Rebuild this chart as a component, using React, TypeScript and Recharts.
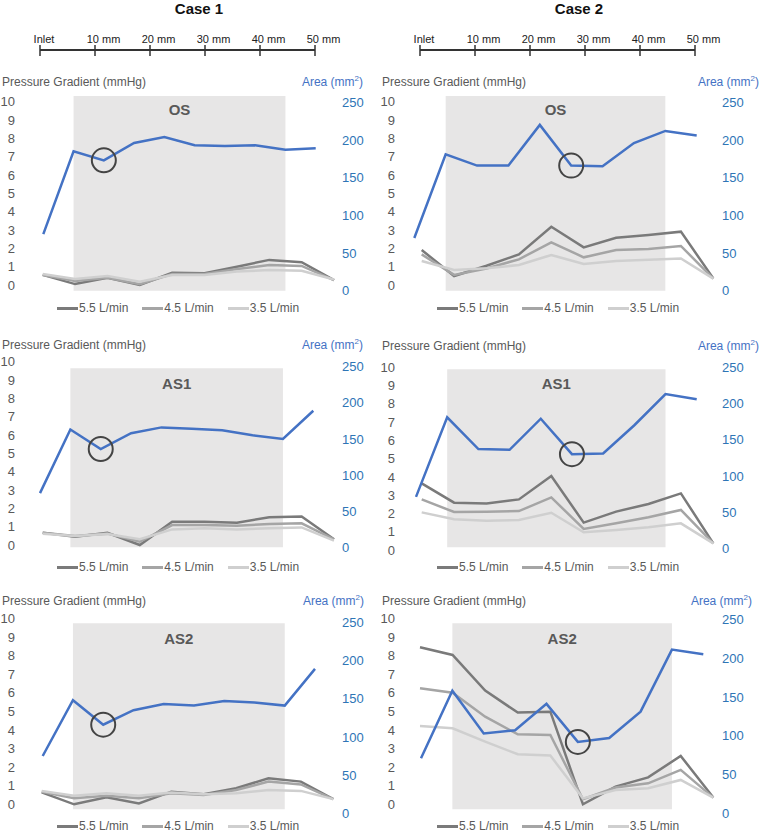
import React from "react";
import { ComposedChart, Line, XAxis, YAxis, ReferenceArea, ReferenceDot } from "recharts";

const FONT = '"Liberation Sans", Arial, Helvetica, sans-serif';

// ---- data ----
const STATIONS = [0, 1, 2, 3, 4, 5, 6, 7, 8, 9];
const FLOWS = ["5.5 L/min", "4.5 L/min", "3.5 L/min"];
const FLOW_KEYS = ["p55", "p45", "p35"];
const FLOW_COLORS = ["#7a7a7a", "#a5a5a5", "#cfcfcf"];
const LEFT_TICKS = [0, 1, 2, 3, 4, 5, 6, 7, 8, 9, 10];
const RIGHT_TICKS = [0, 50, 100, 150, 200, 250];
const SCALE_MM = [0, 10, 20, 30, 40, 50];
const SCALE_LABELS = ["Inlet", "10 mm", "20 mm", "30 mm", "40 mm", "50 mm"];
const CASES = ["Case 1", "Case 2"];
const SEGMENTS = ["OS", "AS1", "AS2"];
const SHADE = [1, 8]; // stations inside the grey band
const RING = [2, 5]; // circled (smallest) section, per case

// Case 1
const c1OsArea = [75, 185, 173, 196, 204, 193, 192, 193, 187, 189];
const c1OsP55 = [0.55, 0.05, 0.4, 0, 0.67, 0.64, 1.0, 1.37, 1.24, 0.27];
const c1OsP45 = [0.55, 0.22, 0.4, 0.04, 0.6, 0.6, 0.87, 1.09, 1.04, 0.27];
const c1OsP35 = [0.6, 0.33, 0.49, 0.18, 0.55, 0.55, 0.73, 0.82, 0.78, 0.3];

const c1As1Area = [75, 163, 136, 158, 166, 164, 162, 155, 150, 189];
const c1As1P55 = [0.67, 0.45, 0.67, 0, 1.27, 1.27, 1.22, 1.51, 1.55, 0.31];
const c1As1P45 = [0.67, 0.49, 0.62, 0.18, 1.09, 1.09, 1.05, 1.15, 1.18, 0.31];
const c1As1P35 = [0.62, 0.49, 0.6, 0.31, 0.85, 0.91, 0.85, 0.91, 0.96, 0.24];

const c1As2Area = [75, 148, 116, 135, 143, 141, 147, 145, 141, 189];
const c1As2P55 = [0.64, 0, 0.38, 0.05, 0.68, 0.54, 0.86, 1.4, 1.22, 0.28];
const c1As2P45 = [0.68, 0.32, 0.46, 0.32, 0.59, 0.5, 0.77, 1.22, 1.07, 0.28];
const c1As2P35 = [0.72, 0.46, 0.59, 0.46, 0.64, 0.54, 0.59, 0.77, 0.72, 0.28];

// Case 2
const c2OsArea = [70, 181, 166, 166, 220, 166, 165, 196, 212, 206];
const c2OsP55 = [1.91, 0.49, 1.05, 1.67, 3.18, 2.05, 2.58, 2.73, 2.91, 0.36];
const c2OsP45 = [1.67, 0.55, 0.9, 1.4, 2.33, 1.51, 1.91, 1.96, 2.13, 0.35];
const c2OsP35 = [1.31, 0.82, 0.91, 1.09, 1.64, 1.15, 1.31, 1.38, 1.45, 0.35];

const c2As1Area = [71, 181, 137, 136, 179, 130, 131, 170, 213, 206];
const c2As1P55 = [3.65, 2.59, 2.55, 2.77, 4.05, 1.5, 2.1, 2.52, 3.1, 0.36];
const c2As1P45 = [2.77, 2.08, 2.1, 2.13, 2.88, 1.15, 1.46, 1.79, 2.19, 0.36];
const c2As1P35 = [2.06, 1.68, 1.6, 1.64, 2.04, 0.97, 1.1, 1.24, 1.46, 0.36];

const c2As2Area = [71, 158, 103, 107, 141, 92, 97, 131, 211, 205];
const c2As2P55 = [8.44, 8.03, 6.11, 4.93, 4.98, 0, 0.95, 1.45, 2.6, 0.36];
const c2As2P45 = [6.24, 6.0, 4.71, 3.76, 3.73, 0.27, 0.9, 1.13, 1.85, 0.36];
const c2As2P35 = [4.21, 4.09, 3.37, 2.69, 2.62, 0.32, 0.77, 0.86, 1.31, 0.36];

const SERIES = [
  [
    { area: c1OsArea, p: [c1OsP55, c1OsP45, c1OsP35] },
    { area: c1As1Area, p: [c1As1P55, c1As1P45, c1As1P35] },
    { area: c1As2Area, p: [c1As2P55, c1As2P45, c1As2P35] },
  ],
  [
    { area: c2OsArea, p: [c2OsP55, c2OsP45, c2OsP35] },
    { area: c2As1Area, p: [c2As1P55, c2As1P45, c2As1P35] },
    { area: c2As2Area, p: [c2As2P55, c2As2P45, c2As2P35] },
  ],
];

// ---- layout (page pixels; x relative to column) ----
const COL_X = [0, 380];
const ROW_TOP = [60, 320, 580];
const LEGEND_Y = [308, 567, 826];
const W = 380;
const H = 250;

const GEO = [
  [
    { top: 96, bottom: 290.7, l0: 285, l10: 101.7, r0: 290.7, r250: 102.3, gx: [42.7, 334], bx: [43.3, 315.7], titleY: 82, areaRight: 363, lab: 8.5 },
    { top: 368.3, bottom: 547.3, l0: 545, l10: 361.7, r0: 547.3, r250: 366.7, gx: [42.7, 334], bx: [40, 313.3], titleY: 345, areaRight: 363, lab: 10 },
    { top: 623.3, bottom: 809.3, l0: 804.3, l10: 618.3, r0: 813.3, r250: 622.3, gx: [41.7, 333.3], bx: [42.7, 315], titleY: 600.7, areaRight: 364, lab: 10 },
  ],
  [
    { top: 96, bottom: 290.7, l0: 285, l10: 101.7, r0: 290.7, r250: 102.3, gx: [41.7, 333.3], bx: [34.3, 316.7], titleY: 82, areaRight: 379, lab: 8.5 },
    { top: 369.3, bottom: 547.3, l0: 550, l10: 367.3, r0: 548.3, r250: 367.3, gx: [41.7, 333.3], bx: [36, 316.7], titleY: 345.5, areaRight: 379, lab: 9 },
    { top: 623.3, bottom: 809.3, l0: 804.3, l10: 618.3, r0: 813.3, r250: 619.3, gx: [40, 333.3], bx: [41, 323.3], titleY: 600.7, areaRight: 372, lab: 10 },
  ],
];

const GREY_TEXT = "#595959";
const BLUE_LINE = "#4472c4";
const BLUE_TEXT = "#2e75b6";

function ScaleTick(props: any) {
  const { x, y, payload } = props;
  const i = SCALE_MM.indexOf(payload.value);
  return (
    <g>
      <line x1={x} x2={x} y1={y - 5} y2={y + 6} stroke="#333" strokeWidth={1.5} />
      <text x={x + (i === 0 ? 4 : 8.5)} y={y - 7} textAnchor="middle" fontSize={11} fill="#222">
        {SCALE_LABELS[i]}
      </text>
    </g>
  );
}

function ScaleBar({ col }: { col: number }) {
  const data = SCALE_MM.map((mm) => ({ mm }));
  return (
    <div style={{ position: "absolute", left: COL_X[col], top: 0 }}>
      <ComposedChart width={W} height={70} data={data} margin={{ top: 20, left: 40, right: 65, bottom: 0 }}>
        <XAxis
          dataKey="mm"
          type="number"
          domain={[0, 50]}
          ticks={SCALE_MM}
          interval={0}
          orientation="top"
          height={30}
          stroke="#333"
          strokeWidth={2}
          tickLine={false}
          tickSize={0}
          tickMargin={0}
          tick={<ScaleTick />}
        />
      </ComposedChart>
      <div
        style={{
          position: "absolute", left: 0, top: 0, width: 398, textAlign: "center",
          fontSize: 15, fontWeight: 700, lineHeight: "17px", color: "#111",
        }}
      >
        {CASES[col]}
      </div>
    </div>
  );
}

function Panel({ col, row }: { col: number; row: number }) {
  const g = GEO[col][row];
  const s = SERIES[col][row];
  const rowTop = ROW_TOP[row];
  const plotLeft = Math.min(g.gx[0], g.bx[0]);
  const plotRight = Math.max(g.gx[1], g.bx[1]);

  const lppu = (g.l0 - g.l10) / 10;
  const leftDomain = [-(g.bottom - g.l0) / lppu, 10 + (g.l10 - g.top) / lppu];
  const rppu = (g.r0 - g.r250) / 250;
  const rightDomain = [-(g.bottom - g.r0) / rppu, 250 + (g.r250 - g.top) / rppu];
  const gppu = (g.gx[1] - g.gx[0]) / 9;
  const pDomain = [-(g.gx[0] - plotLeft) / gppu, 9 + (plotRight - g.gx[1]) / gppu];
  const bppu = (g.bx[1] - g.bx[0]) / 9;
  const aDomain = [-(g.bx[0] - plotLeft) / bppu, 9 + (plotRight - g.bx[1]) / bppu];

  const data = STATIONS.map((st, i) => ({
    st,
    p55: s.p[0][i],
    p45: s.p[1][i],
    p35: s.p[2][i],
    area: s.area[i],
  }));
  const ring = RING[col];

  return (
    <div style={{ position: "absolute", left: COL_X[col], top: rowTop, width: W, height: H }}>
      <ComposedChart
        width={W}
        height={H}
        data={data}
        margin={{ top: g.top - rowTop, bottom: H - (g.bottom - rowTop), left: 0, right: 0 }}
      >
        <XAxis xAxisId="p" dataKey="st" type="number" domain={pDomain} hide />
        <XAxis xAxisId="a" dataKey="st" type="number" domain={aDomain} hide />
        <YAxis
          yAxisId="l"
          domain={leftDomain}
          ticks={LEFT_TICKS}
          interval={0}
          width={plotLeft}
          axisLine={false}
          tickLine={false}
          tickMargin={plotLeft - 6 - 15}
          tick={{ fill: GREY_TEXT, fontSize: 13 }}
          allowDataOverflow
        />
        <YAxis
          yAxisId="r"
          orientation="right"
          domain={rightDomain}
          ticks={RIGHT_TICKS}
          interval={0}
          width={W - plotRight}
          axisLine={false}
          tickLine={false}
          tickMargin={342 - plotRight - 6}
          tick={{ fill: BLUE_TEXT, fontSize: 13 }}
          allowDataOverflow
        />
        <ReferenceArea
          xAxisId="a"
          yAxisId="r"
          x1={SHADE[0]}
          x2={SHADE[1]}
          fill="#e7e6e6"
          fillOpacity={1}
          stroke="none"
          label={{
            value: SEGMENTS[row],
            position: "insideTop",
            offset: g.lab,
            fill: GREY_TEXT,
            fontSize: 15,
            fontWeight: 700,
          }}
        />
        {FLOW_KEYS.map((k, i) => (
          <Line
            key={k}
            xAxisId="p"
            yAxisId="l"
            dataKey={k}
            stroke={FLOW_COLORS[i]}
            strokeWidth={2.5}
            dot={false}
            isAnimationActive={false}
          />
        ))}
        <Line
          xAxisId="a"
          yAxisId="r"
          dataKey="area"
          stroke={BLUE_LINE}
          strokeWidth={2.5}
          dot={false}
          isAnimationActive={false}
        />
        <ReferenceDot
          xAxisId="a"
          yAxisId="r"
          x={ring}
          y={s.area[ring]}
          r={12}
          fill="none"
          stroke="#444"
          strokeWidth={2}
        />
      </ComposedChart>
    </div>
  );
}

function Titles({ col, row }: { col: number; row: number }) {
  const g = GEO[col][row];
  const x0 = COL_X[col];
  return (
    <>
      <div style={{ position: "absolute", left: x0 + 2, top: g.titleY - 8, fontSize: 12, lineHeight: "16px", color: GREY_TEXT, whiteSpace: "nowrap" }}>
        Pressure Gradient (mmHg)
      </div>
      <div style={{ position: "absolute", left: x0 + g.areaRight - 90, width: 90, top: g.titleY - 8, fontSize: 12, lineHeight: "16px", color: BLUE_LINE, textAlign: "right", whiteSpace: "nowrap" }}>
        Area (mm<sup style={{ fontSize: 8, lineHeight: 0 }}>2</sup>)
      </div>
      <div style={{ position: "absolute", left: x0 + 57, top: LEGEND_Y[row] - 8, display: "flex", gap: 14, fontSize: 12, lineHeight: "16px", color: GREY_TEXT, whiteSpace: "nowrap" }}>
        {FLOWS.map((f, i) => (
          <div key={f} style={{ display: "flex", alignItems: "center" }}>
            <span style={{ display: "inline-block", width: 21, height: 3, background: FLOW_COLORS[i], marginRight: 1 }} />
            {f}
          </div>
        ))}
      </div>
    </>
  );
}

export default function App() {
  return (
    <div style={{ position: "absolute", left: 0, top: 0, width: 760, height: 833, background: "#fff", fontFamily: FONT, overflow: "hidden" }}>
      {[0, 1].map((col) => (
        <React.Fragment key={col}>
          <ScaleBar col={col} />
          {[0, 1, 2].map((row) => (
            <React.Fragment key={row}>
              <Panel col={col} row={row} />
              <Titles col={col} row={row} />
            </React.Fragment>
          ))}
        </React.Fragment>
      ))}
    </div>
  );
}
